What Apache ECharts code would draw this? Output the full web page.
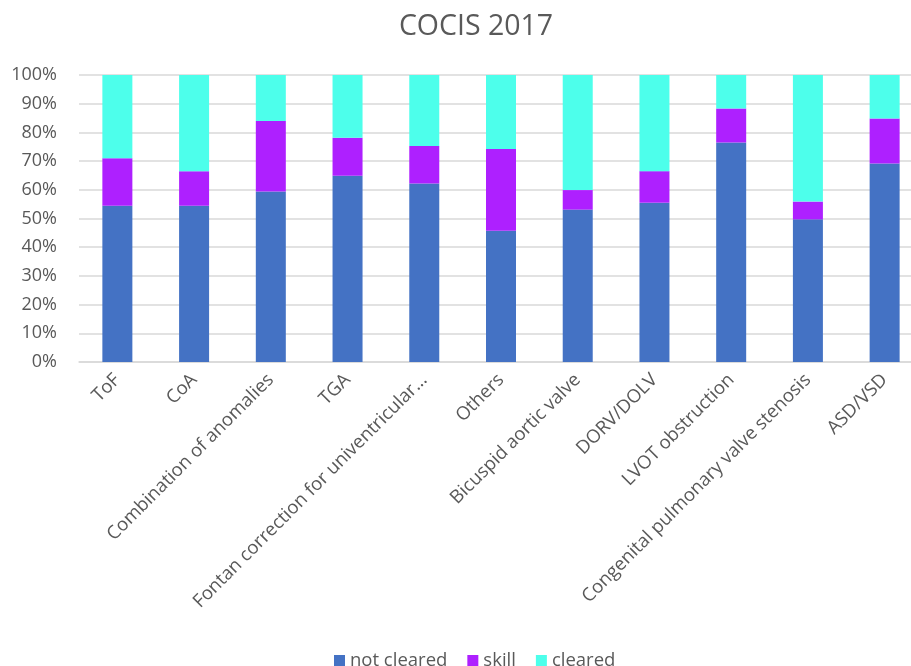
<!DOCTYPE html>
<html>
<head>
<meta charset="utf-8">
<script src="https://cdn.jsdelivr.net/npm/echarts@6/dist/echarts.min.js"></script>
<style>
  html, body { margin: 0; padding: 0; background: #fff; }
  #chart { width: 911px; height: 666px; }
</style>
</head>
<body>
<div id="chart"></div>
<script>
// Diagnosis groups on the x axis
const categories = [
  'ToF', 'CoA', 'Combination of anomalies', 'TGA',
  'Fontan correction for univentricular...', 'Others',
  'Bicuspid aortic valve', 'DORV/DOLV', 'LVOT obstruction',
  'Congenital pulmonary valve stenosis', 'ASD/VSD'
];

// Share of each outcome per group, in percent
const notCleared = [54.4, 54.4, 59.4, 64.9, 62.2, 45.7, 53.1, 55.5, 76.5, 49.7, 69.2];
const skill      = [16.6, 12.1, 24.6, 13.2, 13.1, 28.5,  6.8, 11.0, 11.8,  6.2, 15.6];
const cleared    = [29.0, 33.5, 16.0, 21.9, 24.7, 25.8, 40.1, 33.5, 11.7, 44.1, 15.2];

const seriesNames = ['not cleared', 'skill', 'cleared'];
const seriesColors = ['#4472C4', '#AE20FF', '#4DFFEB'];

const textColor = '#595959';
const fontFamily = "'Open Sans', 'Liberation Sans', sans-serif";

const chart = echarts.init(document.getElementById('chart'));

const values = [notCleared, skill, cleared];

chart.setOption({
  backgroundColor: '#ffffff',
  animation: false,
  title: {
    text: 'COCIS 2017',
    left: 471,
    top: 7,
    textAlign: 'center',
    textStyle: { color: textColor, fontSize: 28.5, fontWeight: 'normal', fontFamily }
  },
  legend: {
    data: seriesNames,
    top: 646,
    left: 329,
    itemWidth: 11,
    itemHeight: 11,
    itemGap: 20,
    icon: 'rect',
    textStyle: { color: textColor, fontSize: 18.5, fontFamily }
  },
  grid: {
    left: 79,
    top: 75,
    width: 844,
    height: 287,
    outerBoundsMode: 'none',
    containLabel: false
  },
  xAxis: {
    type: 'category',
    data: categories,
    axisLine: { show: true, lineStyle: { color: '#D9D9D9', width: 1.5 } },
    axisTick: { show: false },
    axisLabel: {
      interval: 0,
      rotate: 45,
      margin: 15,
      color: textColor,
      fontSize: 18.5,
      fontFamily
    }
  },
  yAxis: {
    type: 'value',
    min: 0,
    max: 100,
    interval: 10,
    axisLine: { show: false },
    axisTick: { show: false },
    splitLine: { lineStyle: { color: '#D9D9D9', width: 1.5 } },
    axisLabel: {
      formatter: '{value}%',
      margin: 22,
      color: textColor,
      fontSize: 18,
      fontFamily
    }
  },
  series: seriesNames.map((name, i) => ({
    name,
    type: 'bar',
    stack: 'total',
    barWidth: 30,
    data: values[i],
    itemStyle: { color: seriesColors[i] }
  }))
});
</script>
</body>
</html>
